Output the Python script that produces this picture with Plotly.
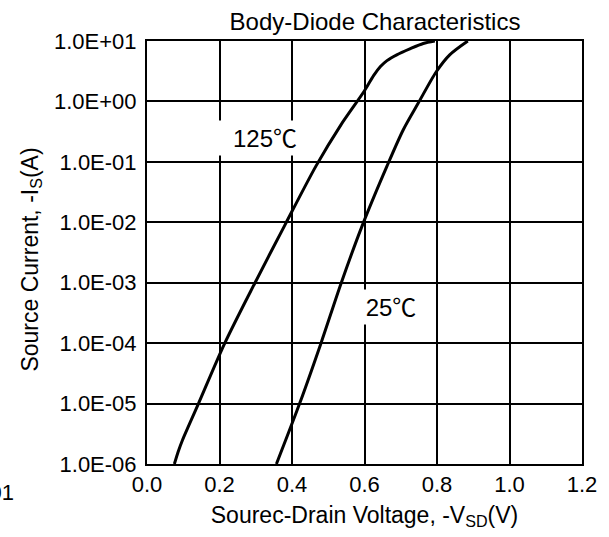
import plotly.graph_objects as go

# ---- data ----
v_125 = [0.0755, 0.086, 0.098, 0.142, 0.2146, 0.298, 0.380, 0.466, 0.535, 0.600,
         0.625, 0.644, 0.662, 0.689, 0.725, 0.762, 0.794]
i_125 = [1e-6, 1.6e-6, 2.5e-6, 1e-5, 1e-4, 1e-3, 8.9e-3, 8.5e-2, 0.41, 1.5,
         2.67, 3.77, 4.73, 5.9, 7.4, 9.1, 10.0]

v_25 = [0.357, 0.421, 0.480, 0.536, 0.594, 0.662, 0.707, 0.748, 0.798, 0.835, 0.885]
i_25 = [1e-6, 1e-5, 1e-4, 1e-3, 8.9e-3, 8.5e-2, 0.34, 0.93, 3.1, 5.9, 10.0]

y_tickvals = [1e-6, 1e-5, 1e-4, 1e-3, 1e-2, 1e-1, 1e0, 1e1]
y_ticktext = ["1.0E-06", "1.0E-05", "1.0E-04", "1.0E-03", "1.0E-02",
              "1.0E-01", "1.0E+00", "1.0E+01"]
x_tickvals = [0.0, 0.2, 0.4, 0.6, 0.8, 1.0, 1.2]
x_ticktext = ["0.0", "0.2", "0.4", "0.6", "0.8", "1.0", "1.2"]

FONT = "Liberation Sans, Arial, Noto Sans CJK SC, sans-serif"

fig = go.Figure()
for xs, ys in [(v_125, i_125), (v_25, i_25)]:
    fig.add_trace(go.Scatter(x=xs, y=ys, mode="lines",
                             line=dict(color="black", width=3, shape="spline", smoothing=0.8),
                             showlegend=False, hoverinfo="skip"))

fig.update_layout(
    width=609, height=537,
    margin=dict(l=147, r=21, t=41, b=73),
    paper_bgcolor="white", plot_bgcolor="white",
    font=dict(family=FONT, color="black", size=22),
    title=dict(text="Body-Diode Characteristics", x=375/609, xanchor="center",
               y=1 - 22/537, yanchor="middle", font=dict(size=24, family=FONT, color="black")),
)
fig.update_xaxes(range=[0, 1.2], tickvals=x_tickvals, ticktext=x_ticktext,
                 showgrid=True, gridcolor="black", gridwidth=2,
                 showline=True, linecolor="black", linewidth=2, mirror=True,
                 zeroline=False, ticks="", ticklabelstandoff=0,
                 tickfont=dict(size=22),
                 title=dict(text="Sourec-Drain Voltage, -V<sub>SD</sub>(V)", standoff=10,
                            font=dict(size=23)))
fig.update_yaxes(type="log", range=[-6, 1], tickvals=y_tickvals, ticktext=y_ticktext,
                 showgrid=True, gridcolor="black", gridwidth=2,
                 showline=True, linecolor="black", linewidth=2, mirror=True,
                 zeroline=False, ticks="", ticklabelstandoff=4,
                 tickfont=dict(size=22))

# y axis title as annotation for exact placement
fig.add_annotation(text="Source Current, -I<sub>S</sub>(A)", xref="paper", yref="paper",
                   x=(29 - 147) / (609 - 147 - 21), y=1 - (260 - 41) / (537 - 41 - 73),
                   xanchor="center", yanchor="middle", textangle=-90, showarrow=False,
                   font=dict(size=23))

# curve labels with white boxes
fig.add_annotation(text="125\u2103", x=0.3046, y=-0.60, xref="x", yref="y",
                   showarrow=False, bgcolor="white", width=80, height=34, align="right",
                   borderpad=0, font=dict(size=24))
fig.add_annotation(text="25\u2103", x=0.672, y=-3.40, xref="x", yref="y",
                   showarrow=False, bgcolor="white", width=64, height=34, align="center",
                   borderpad=0, font=dict(size=24))

# stray clipped label at bottom-left of the reference
fig.add_annotation(text="1.0E-01", xref="paper", yref="paper",
                   x=(14 - 147) / (609 - 147 - 21), y=1 - (492 - 41) / (537 - 41 - 73),
                   xanchor="right", yanchor="middle", showarrow=False, font=dict(size=22))

fig.write_html("out.html", config={"displayModeBar": False},
               post_script="document.body.style.margin='0';")
